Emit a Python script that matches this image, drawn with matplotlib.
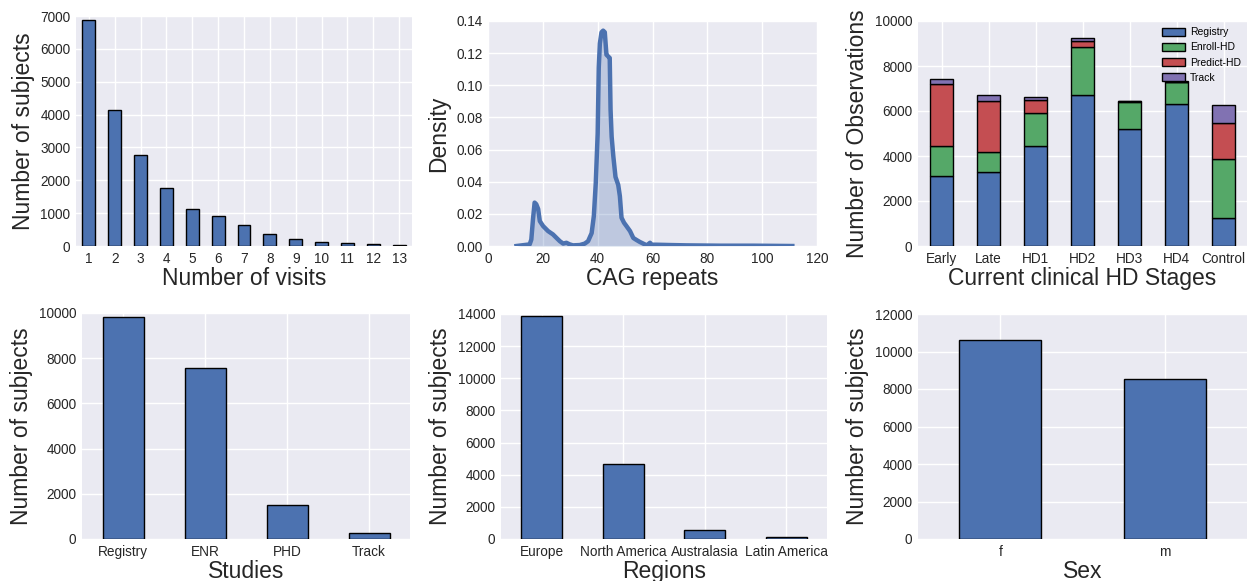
"""Six-panel cohort overview: visits, CAG density, HD stages, studies, regions, sex."""

import matplotlib

matplotlib.use("Agg")
import matplotlib.pyplot as plt
import numpy as np

# --- data --------------------------------------------------------------
visits = list(range(1, 14))
visit_counts = [6870, 4130, 2770, 1780, 1130, 920, 640, 370, 220, 120, 90, 50, 20]

cag_x = [10.4, 15.2, 15.8, 16.4, 17.0, 17.6, 18.3, 18.9, 20.1, 21.9, 23.7, 25.0,
         26.2, 27.4, 28.6, 29.8, 31.0, 33.5, 35.3, 36.5, 37.8, 38.6, 39.3, 40.0,
         40.4, 40.8, 41.4, 42.0, 42.6, 43.2, 43.8, 44.4, 44.7, 45.1, 45.7, 46.5,
         47.5, 48.1, 48.7, 49.6, 50.5, 51.8, 53.0, 54.2, 55.4, 56.6, 57.9, 59.1,
         59.7, 61.5, 66.4, 72.5, 84.7, 96.8, 111.0]
cag_density = [0.0, 0.001, 0.004, 0.0165, 0.027, 0.026, 0.023, 0.0155, 0.0124,
               0.0093, 0.0072, 0.005, 0.003, 0.0015, 0.002, 0.001, 0.0004, 0.0006,
               0.0015, 0.003, 0.008, 0.0186, 0.039, 0.070, 0.111, 0.126, 0.133,
               0.134, 0.133, 0.119, 0.118, 0.117, 0.085, 0.068, 0.056, 0.043,
               0.038, 0.031, 0.0176, 0.0145, 0.0124, 0.0093, 0.005, 0.0037, 0.0025,
               0.0015, 0.0004, 0.002, 0.0008, 0.0008, 0.0006, 0.0004, 0.0002,
               0.0002, 0.0]

stages = ["Early", "Late", "HD1", "HD2", "HD3", "HD4", "Control"]
stage_series = ["Registry", "Enroll-HD", "Predict-HD", "Track"]
stage_registry = [3090, 3310, 4450, 6690, 5200, 6330, 1250]
stage_enroll = [1360, 870, 1450, 2170, 1200, 950, 2600]
stage_predict = [2770, 2250, 570, 250, 30, 30, 1630]
stage_track = [180, 290, 160, 150, 15, 20, 780]

studies = ["Registry", "ENR", "PHD", "Track"]
study_counts = [9820, 7570, 1490, 265]

regions = ["Europe", "North America", "Australasia", "Latin America"]
region_counts = [13900, 4680, 540, 125]

sexes = ["f", "m"]
sex_counts = [10610, 8550]

# --- style (old seaborn darkgrid look) -----------------------------------
plt.rcParams.update({
    "font.family": ["Liberation Sans", "DejaVu Sans"],
    "axes.facecolor": "#EAEAF2",
    "axes.edgecolor": "none",
    "axes.grid": True,
    "axes.axisbelow": True,
    "grid.color": "white",
    "grid.linewidth": 1.0,
    "xtick.major.size": 0,
    "ytick.major.size": 0,
    "xtick.major.pad": 4,
    "ytick.major.pad": 4,
    "xtick.labelsize": 9.8,
    "ytick.labelsize": 9.8,
    "xtick.color": "#262626",
    "ytick.color": "#262626",
    "axes.labelcolor": "#262626",
    "axes.labelsize": 16.5,
})
C = ["#4C72B0", "#55A868", "#C44E52", "#8172B2"]
W, H = 1247, 581


def place(fig, left, right, top, bottom):
    return fig.add_axes([left / W, 1 - bottom / H, (right - left) / W, (bottom - top) / H])


def simple_bars(ax, labels, values, ylim, step, xlabel):
    x = np.arange(len(labels))
    ax.bar(x, values, width=0.5, color=C[0], edgecolor="black", linewidth=1)
    ax.set_xticks(x)
    ax.set_xticklabels(labels)
    ax.set_xlim(-0.5, len(labels) - 0.5)
    ax.set_ylim(0, ylim)
    ax.set_yticks(np.arange(0, ylim + 1, step))
    ax.set_xlabel(xlabel, labelpad=1)
    ax.set_ylabel("Number of subjects")


fig = plt.figure(figsize=(W / 100, H / 100), dpi=100)

ax = place(fig, 76, 412, 16, 246)
simple_bars(ax, [str(v) for v in visits], visit_counts, 7000, 1000, "Number of visits")

ax = place(fig, 488, 817, 21, 246)
ax.plot(cag_x, cag_density, color=C[0], linewidth=3.2, solid_joinstyle="round")
ax.fill_between(cag_x, cag_density, color=C[0], alpha=0.28, linewidth=0)
ax.set_xlim(0, 120)
ax.set_ylim(0, 0.14)
ax.set_yticks(np.arange(0, 0.141, 0.02))
ax.yaxis.set_major_formatter(matplotlib.ticker.FormatStrFormatter("%.2f"))
ax.set_xlabel("CAG repeats", labelpad=1)
ax.set_ylabel("Density")

ax = place(fig, 918, 1247, 21, 246)
x = np.arange(len(stages))
bottom = np.zeros(len(stages))
for name, vals, col in zip(stage_series,
                           [stage_registry, stage_enroll, stage_predict, stage_track], C):
    ax.bar(x, vals, width=0.5, bottom=bottom, color=col, edgecolor="black",
           linewidth=1, label=name)
    bottom += np.array(vals)
ax.set_xticks(x)
ax.set_xticklabels(stages)
ax.set_xlim(-0.5, len(stages) - 0.5)
ax.set_ylim(0, 10000)
ax.set_yticks(np.arange(0, 10001, 2000))
ax.set_xlabel("Current clinical HD Stages", labelpad=1)
ax.set_ylabel("Number of Observations")
ax.legend(loc="upper right", fontsize=7.5, frameon=False, handlelength=2.2,
          handleheight=0.8, handletextpad=0.5, labelspacing=0.5,
          borderaxespad=0.2)

ax = place(fig, 82, 410, 313, 539)
simple_bars(ax, studies, study_counts, 10000, 2000, "Studies")

ax = place(fig, 501, 827, 314, 539)
simple_bars(ax, regions, region_counts, 14000, 2000, "Regions")

ax = place(fig, 918, 1247, 314, 539)
simple_bars(ax, sexes, sex_counts, 12000, 2000, "Sex")

fig.savefig("out.png", dpi=100)
